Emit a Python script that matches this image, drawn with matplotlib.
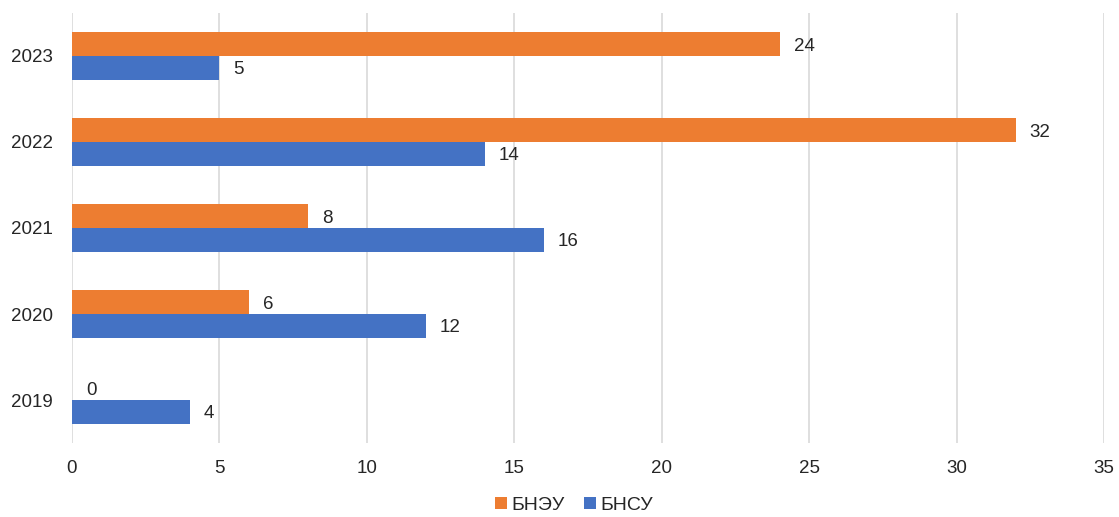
import numpy as np
import matplotlib
matplotlib.use("Agg")
import matplotlib.pyplot as plt

plt.rcParams['font.family'] = ['Liberation Sans', 'DejaVu Sans']

years = ["2019", "2020", "2021", "2022", "2023"]
bneu = [0, 6, 8, 32, 24]
bnsu = [4, 12, 16, 14, 5]

ORANGE = "#ED7D31"
BLUE = "#4472C4"
TXT = "#262626"
FS = 13.5

fig = plt.figure(figsize=(11.19, 5.17), dpi=100)
ax = fig.add_axes([0.0643, 0.143, 0.9223, 0.832])

y = np.arange(len(years))
h = 0.275
b1 = ax.barh(y + h / 2, bneu, height=h, color=ORANGE, label="БНЭУ", zorder=3)
b2 = ax.barh(y - h / 2, bnsu, height=h, color=BLUE, label="БНСУ", zorder=3)

for bars, vals in ((b1, bneu), (b2, bnsu)):
    for r, v in zip(bars, vals):
        ax.annotate(str(v), (v, r.get_y() + r.get_height() / 2), xytext=(10, -1.5),
                    textcoords="offset points", ha="left", va="center",
                    fontsize=FS, color=TXT)

ax.set_xlim(0, 35)
ax.set_ylim(-0.5, 4.5)
ax.set_xticks(range(0, 36, 5))
ax.set_yticks(y)
ax.set_yticklabels(years)
ax.tick_params(axis="both", length=0, labelsize=FS, labelcolor=TXT)
ax.tick_params(axis="x", pad=12)
ax.tick_params(axis="y", pad=14)
ax.grid(axis="x", color="#d9d9d9", lw=1.2, zorder=0)
for s in ax.spines.values():
    s.set_visible(False)

fig.legend(handles=[b1, b2], loc="center", bbox_to_anchor=(0.513, 0.022),
           ncol=2, frameon=False, fontsize=14, handlelength=0.6, handleheight=0.6,
           handletextpad=0.25, columnspacing=1.0, labelcolor=TXT,
           borderpad=0, borderaxespad=0)

fig.savefig("out.png", dpi=100)
